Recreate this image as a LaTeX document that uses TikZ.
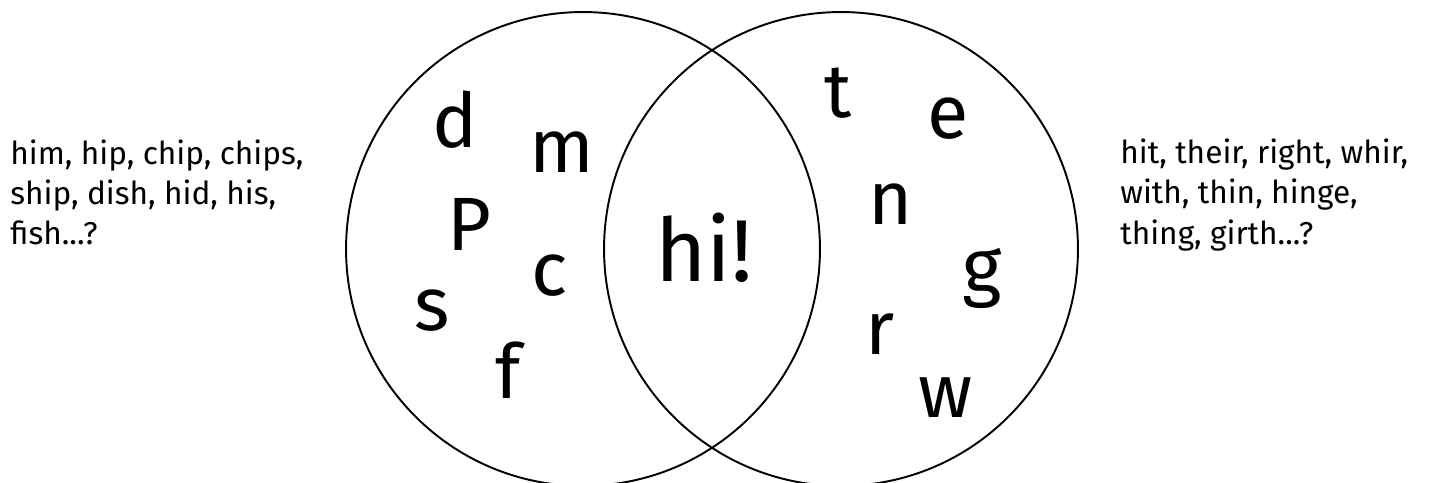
\documentclass[tikz,border=0pt]{standalone}
\usepackage{fontspec}
\setmainfont{Fira Sans}
\newfontfamily\handfont{Fira Sans}
\usetikzlibrary{positioning}

\begin{document}
\begin{tikzpicture}[
  x=0.02cm, y=-0.02cm,
  ring/.style={draw, circle, line width=1.1pt, minimum size=9.48cm, inner sep=0pt},
  letter/.style={font=\handfont\fontsize{43}{43}\selectfont, inner sep=0pt},
  wordlist/.style={font=\fontsize{18}{22.8}\selectfont, align=left, inner sep=0pt, anchor=west}
]
  \useasboundingbox (0,0) rectangle (1434,483);
  % the two sets
  \node[ring] (left) at (583,249) {};
  \node[ring] (right) at (841,249) {};
  % shared part
  \node[letter, font=\handfont\fontsize{50}{50}\selectfont] (both) at (704,248) {hi!};
  % letters on the left
  \node[letter] (d) at (455,120) {d};
  \node[letter] (m) at (562,152) {m};
  \node[letter] (p) at (469,224) {P};
  \node[letter] (c) at (550,276) {c};
  \node[letter] (s) at (432,311) {s};
  \node[letter] (f) at (508,370) {f};
  % letters on the right
  \node[letter] (t) at (838,93) {t};
  \node[letter] (e) at (948,119) {e};
  \node[letter] (n) at (891,204) {n};
  \node[letter] (g) at (982,278) {g};
  \node[letter] (r) at (880,334) {r};
  \node[letter] (w) at (946,398) {w};
  % word lists
  \node[wordlist] (leftwords) at (10,192) {him, hip, chip, chips,\\ship, dish, hid, his,\\fish...?};
  \node[wordlist] (rightwords) at (1120,195) {hit, their, right, whir,\\with, thin, hinge,\\thing, girth...?};
\end{tikzpicture}
\end{document}
